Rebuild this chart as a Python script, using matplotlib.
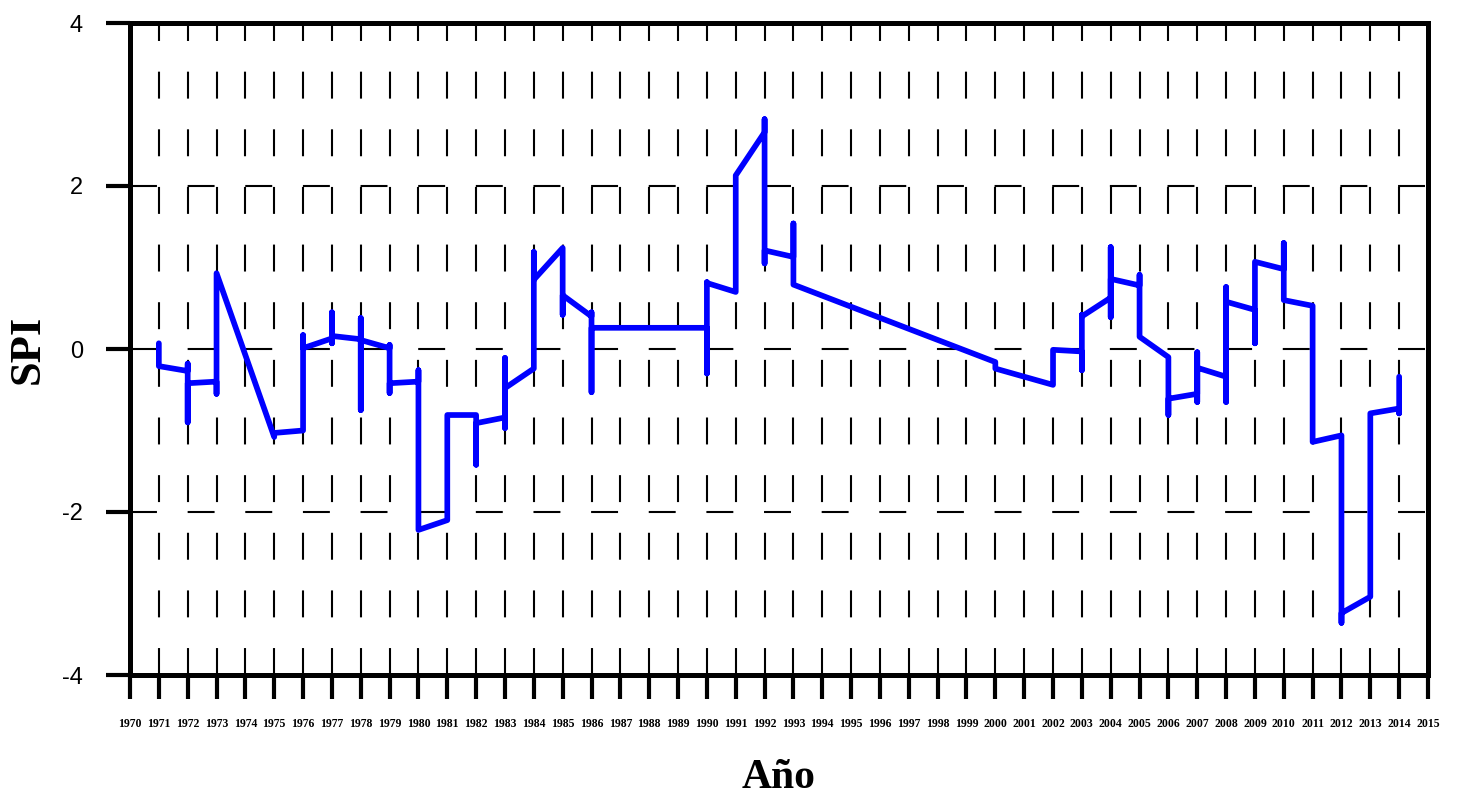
import matplotlib
matplotlib.use('Agg')
import matplotlib.pyplot as plt

plt.rcParams['lines.scale_dashes'] = False

# SPI values, several readings per year (vertical runs at each year)
years = [1971, 1971,
         1972, 1972, 1972, 1972,
         1973, 1973, 1973,
         1975, 1975,
         1976, 1976, 1976,
         1977, 1977, 1977, 1977,
         1978, 1978, 1978, 1978,
         1979, 1979, 1979, 1979,
         1980, 1980, 1980,
         1981, 1981,
         1982, 1982, 1982,
         1983, 1983, 1983, 1983,
         1984, 1984, 1984,
         1985, 1985, 1985,
         1986, 1986, 1986, 1986,
         1990, 1990, 1990, 1990,
         1991, 1991,
         1992, 1992, 1992, 1992,
         1993, 1993, 1993,
         2000, 2000,
         2002, 2002,
         2003, 2003, 2003, 2003,
         2004, 2004, 2004, 2004,
         2005, 2005, 2005,
         2006, 2006, 2006,
         2007, 2007, 2007, 2007,
         2008, 2008, 2008, 2008,
         2009, 2009, 2009,
         2010, 2010, 2010,
         2011, 2011,
         2012, 2012, 2012,
         2013, 2013,
         2014, 2014, 2014]
spi = [0.07, -0.21,
       -0.27, -0.18, -0.90, -0.42,
       -0.40, -0.55, 0.93,
       -1.08, -1.03,
       -1.00, 0.17, 0.01,
       0.13, 0.45, 0.07, 0.16,
       0.12, 0.38, -0.75, 0.11,
       0.01, 0.05, -0.54, -0.42,
       -0.40, -0.26, -2.22,
       -2.10, -0.81,
       -0.81, -1.42, -0.91,
       -0.84, -0.11, -0.97, -0.48,
       -0.24, 1.19, 0.85,
       1.24, 0.42, 0.66,
       0.40, 0.45, -0.53, 0.26,
       0.26, -0.30, 0.82, 0.81,
       0.70, 2.13,
       2.66, 2.82, 1.05, 1.21,
       1.13, 1.54, 0.79,
       -0.16, -0.24,
       -0.44, -0.01,
       -0.03, -0.26, 0.42, 0.40,
       0.63, 1.25, 0.39, 0.86,
       0.78, 0.91, 0.15,
       -0.10, -0.81, -0.61,
       -0.55, -0.04, -0.65, -0.23,
       -0.34, 0.76, -0.65, 0.58,
       0.48, 0.07, 1.07,
       0.98, 1.30, 0.60,
       0.53, -1.14,
       -1.06, -3.36, -3.24,
       -3.04, -0.79,
       -0.73, -0.79, -0.34]

year_ticks = list(range(1970, 2016))
spi_ticks = [-4, -2, 0, 2, 4]

fig = plt.figure(figsize=(14.6, 7.96), dpi=100)
ax = fig.add_axes([130 / 1460, 121 / 796, 1298 / 1460, 652 / 796])

ax.plot(years, spi, color='#0000ff', linewidth=4.1, solid_capstyle='round', zorder=3)

ax.set_xlim(1970, 2015)
ax.set_ylim(-4, 4)
ax.set_xticks(year_ticks)
ax.set_xticklabels([str(y) for y in year_ticks], fontsize=8.5, fontweight='bold',
                   family='Liberation Serif')
ax.set_yticks(spi_ticks)
ax.set_yticklabels([str(v) for v in spi_ticks], fontsize=17, family='Liberation Sans')

ax.grid(True, color='black', linewidth=1.5, linestyle=(0, (19.4, 22.1)))

for s in ax.spines.values():
    s.set_linewidth(3.6)
ax.tick_params(axis='x', direction='out', length=17, width=3.0, pad=14)
ax.tick_params(axis='y', direction='out', length=17, width=3.0, pad=17)

ax.set_xlabel('Año', fontsize=30, fontweight='bold', family='Liberation Serif',
              va='center')
ax.xaxis.set_label_coords(0.5, -0.158)
ax.set_ylabel('SPI', fontsize=32, fontweight='bold', family='Liberation Serif',
              va='center')
ax.yaxis.set_label_coords(-0.079, 0.5)

plt.savefig('out.png', dpi=100)
